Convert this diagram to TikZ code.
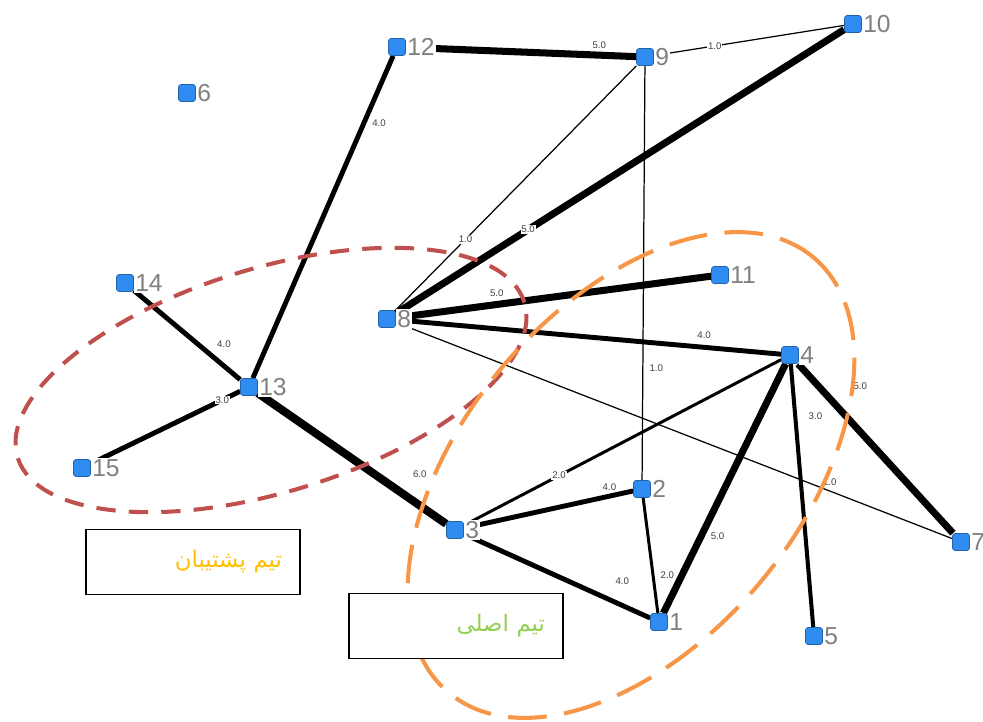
\documentclass[tikz,border=0pt]{standalone}
\usepackage{fontspec}
\setmainfont{Liberation Sans}
\newfontfamily\arabicfont[Script=Arabic]{DejaVu Sans}
\TeXXeTstate=1
\usetikzlibrary{backgrounds}
\definecolor{nodeblue}{HTML}{2F8CF0}
\definecolor{labelgray}{HTML}{808080}
\definecolor{backupred}{HTML}{C0504D}
\definecolor{mainorange}{HTML}{F79646}
\definecolor{backupgold}{HTML}{FFC000}
\definecolor{maingreen}{HTML}{92D050}

\begin{document}
\begin{tikzpicture}[x=0.02cm, y=-0.02cm,
  % Node Styles
  member/.style={rectangle, rounded corners=1.5pt, draw=nodeblue!70!black, line width=0.4pt, fill=nodeblue, minimum size=0.34cm, inner sep=0pt, label distance=0.5pt, label={[numlabel]right:#1}},
  numlabel/.style={text=labelgray, font=\fontsize{14}{14}\selectfont, fill=white, inner sep=0.6pt},
  teambox/.style={rectangle, draw, line width=0.6pt, fill=white, minimum width=4.28cm, minimum height=1.3cm, text width=3.56cm, inner xsep=0.36cm, align=right, font=\arabicfont\fontsize{13}{14}\selectfont},
  % Edge Styles
  w1/.style={line width=0.7pt},
  w2/.style={line width=1.7pt},
  w3/.style={line width=2.3pt},
  w4/.style={line width=2.8pt},
  w5/.style={line width=4pt},
  w6/.style={line width=4.6pt},
  wlabel/.style={font=\fontsize{5.5}{6}\selectfont, text=black!75, fill=white, inner sep=0.5pt},
  % Team Ellipses
  backupteam/.style={draw=backupred, line width=2.3pt, dash pattern=on 11pt off 7.5pt},
  mainteam/.style={draw=mainorange, line width=2.3pt, dash pattern=on 22pt off 10pt}
]
\useasboundingbox (0,0) rectangle (983,722);

\node[member=1] (m1) at (659,622) {};
\node[member=2] (m2) at (642,489) {};
\node[member=3] (m3) at (455,530) {};
\node[member=4] (m4) at (790,355) {};
\node[member=5] (m5) at (814,636) {};
\node[member=6] (m6) at (187,93) {};
\node[member=7] (m7) at (961,542) {};
\node[member=8] (m8) at (387,319) {};
\node[member=9] (m9) at (645,57) {};
\node[member=10] (m10) at (853,24) {};
\node[member=11] (m11) at (720,275) {};
\node[member=12] (m12) at (397,47) {};
\node[member=13] (m13) at (249,387) {};
\node[member=14] (m14) at (125,283) {};
\node[member=15] (m15) at (82,468) {};

% Weighted links
\begin{scope}[on background layer]
\draw[w5] (m12) -- node[wlabel, pos=0.84, above=1pt] {5.0} (m9);
\draw[w1] (m9) -- node[wlabel, pos=0.32] {1.0} (m10);
\draw[w4] (m12) -- node[wlabel, pos=0.21, right=3pt] {4.0} (m13);
\draw[w1] (m9) -- node[wlabel, pos=0.71] {1.0} (m8);
\draw[w5] (m10) -- node[wlabel, pos=0.705] {5.0} (m8);
\draw[w1] (m9) -- node[wlabel, pos=0.73, right=3pt] {1.0} (m2);
\draw[w5] (m8) -- node[wlabel, pos=0.32, above=2pt] {5.0} (m11);
\draw[w4] (m8) -- node[wlabel, pos=0.80, above=3pt] {4.0} (m4);
\draw[w1] (m8) -- node[wlabel, pos=0.78, above=2pt] {1.0} (m7);
\draw[w4] (m14) -- node[wlabel, pos=0.72, above right=2pt] {4.0} (m13);
\draw[w4] (m13) -- node[wlabel, pos=0.12] {3.0} (m15);
\draw[w6] (m13) -- node[wlabel, pos=0.86, above=13pt] {6.0} (m3);
\draw[w2] (m3) -- node[wlabel, pos=0.30] {2.0} (m4);
\draw[w4] (m3) -- node[wlabel, pos=0.86, above=1pt] {4.0} (m2);
\draw[w4] (m3) -- node[wlabel, pos=0.85, above=10pt] {4.0} (m1);
\draw[w2] (m2) -- node[wlabel, pos=0.67, right=3pt] {2.0} (m1);
\draw[w5] (m4) -- node[wlabel, pos=0.69, right=3pt] {5.0} (m1);
\draw[w3] (m4) -- node[wlabel, pos=0.20, right=6pt] {3.0} (m5);
\draw[w5] (m4) -- node[wlabel, pos=0.25, above right=7pt] {5.0} (m7);
\end{scope}

% Teams
\draw[backupteam, rotate around={17:(271,380)}] (271,380) ellipse [x radius=5.3cm, y radius=2.24cm];
\draw[mainteam, rotate around={50:(631,475)}] (631,475) ellipse [x radius=5.68cm, y radius=3.36cm];

\node[teambox, text=backupgold] (backup) at (193,562) {\beginR تیم پشتیبان\endR};
\node[teambox, text=maingreen] (main) at (456,626) {\beginR تیم اصلی\endR};

\end{tikzpicture}
\end{document}
